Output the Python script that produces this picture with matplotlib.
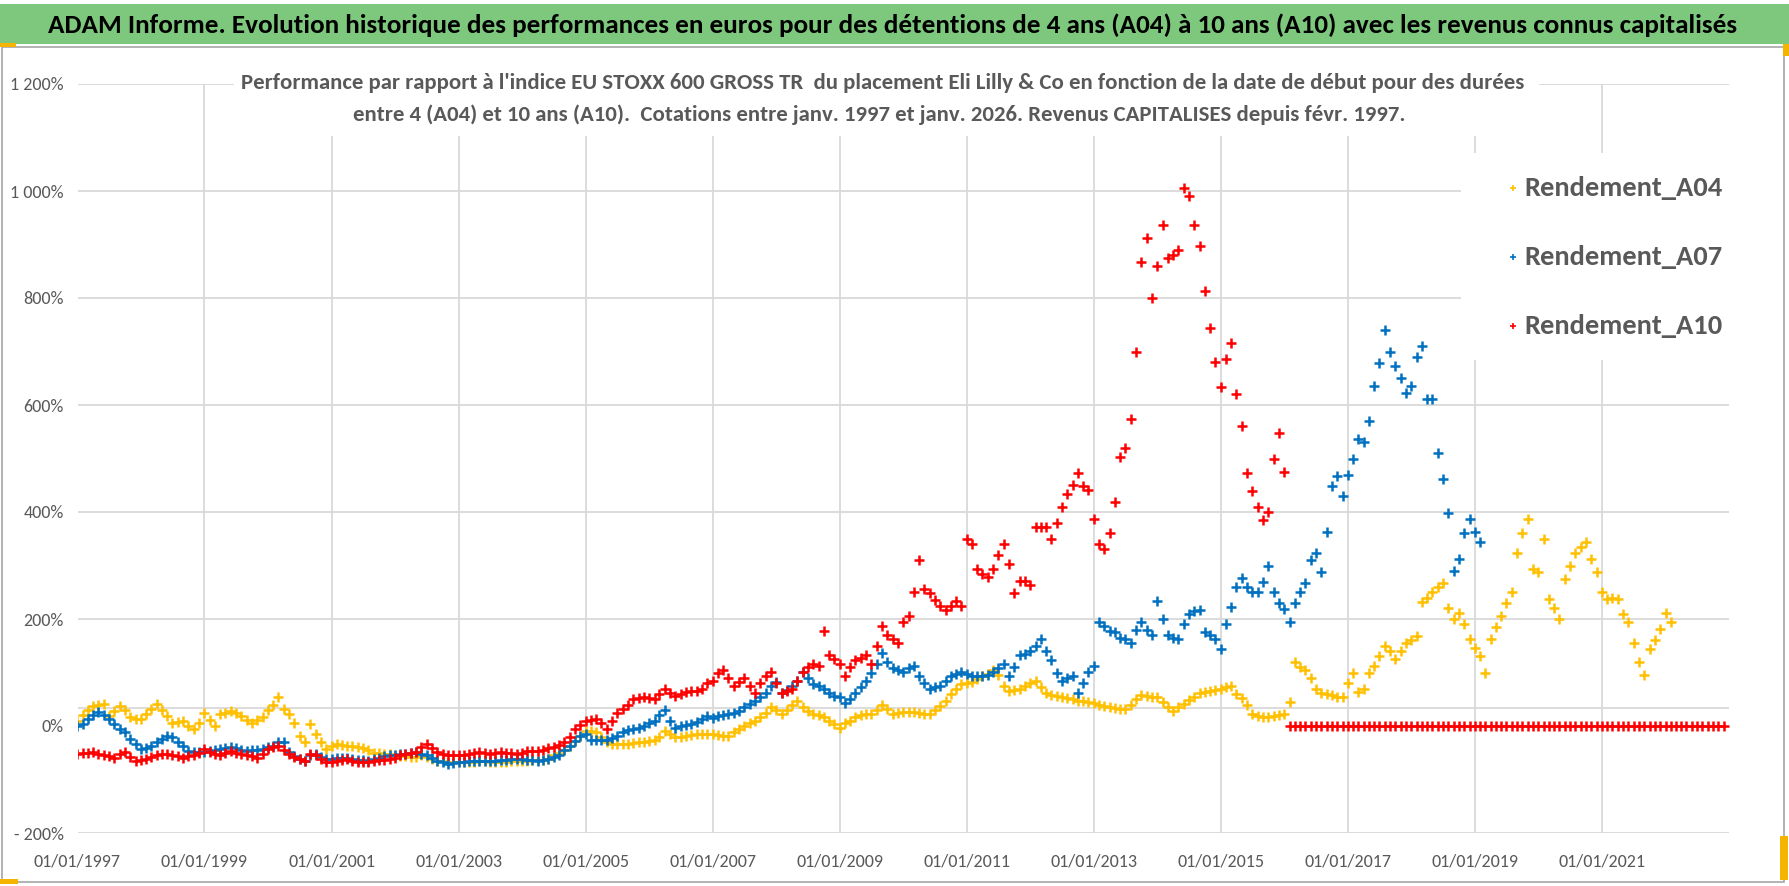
import matplotlib
matplotlib.use("Agg")
import matplotlib.pyplot as plt
from matplotlib import font_manager
from matplotlib.patches import Rectangle
from matplotlib.lines import Line2D
import pandas as pd

# ---------------- data (values in %) ----------------
series_names = ["Rendement_A04", "Rendement_A07", "Rendement_A10"]
series_colors = ["#FFC000", "#0070C0", "#FF0000"]
series_start = ["1997-01-01", "1997-01-01", "1997-01-01"]

rend_a04 = [
    10, 20, 30, 38, 40, 41, 19, 28, 38, 30, 16, 14,            # 1997
    13, 22, 32, 41, 30, 19, 6, 8, 10, 0, -6, 6,                 # 1998
    25, 12, 0, 22, 25, 28, 24, 19, 12, 6, 12, 16,               # 1999
    30, 40, 54, 32, 22, 5, -18, -30, 4, -15, -30, -43,          # 2000
    -38, -34, -35, -37, -38, -40, -42, -45, -50, -50, -52, -53, # 2001
    -55, -56, -57, -58, -58, -55, -58, -62, -65, -66, -68, -68, # 2002
    -68, -68, -68, -67, -66, -66, -67, -68, -68, -67, -66, -66, # 2003
    -65, -65, -64, -64, -63, -62, -55, -50, -45, -37, -28, -18, # 2004
    -9, -10, -12, -20, -30, -34, -34, -34, -33, -31, -30, -29,  # 2005
    -28, -27, -20, -9, -15, -21, -20, -18, -16, -15, -15, -15,  # 2006
    -15, -16, -18, -19, -12, -5, 0, 5, 10, 16, 25, 35,          # 2007
    30, 23, 30, 40, 46, 35, 28, 23, 20, 16, 10, 3,              # 2008
    -3, 5, 10, 16, 20, 22, 23, 30, 39, 32, 23, 25,              # 2009
    26, 27, 27, 25, 23, 23, 30, 38, 46, 60, 70, 78,             # 2010
    80, 82, 88, 93, 98, 105, 95, 75, 66, 68, 70, 75,            # 2011
    80, 85, 72, 62, 58, 56, 54, 52, 50, 47, 46, 45,             # 2012
    43, 40, 38, 35, 33, 32, 31, 40, 50, 58, 56, 55,             # 2013
    54, 45, 35, 28, 35, 42, 48, 55, 62, 64, 66, 68,             # 2014
    70, 72, 74, 60, 52, 40, 23, 18, 16, 17, 19, 21,             # 2015
    23, 45, 119, 110, 105, 90, 69, 62, 60, 58, 55, 54,          # 2016
    80, 100, 63, 70, 100, 113, 130, 150, 140, 125, 140, 156,    # 2017
    160, 169, 231, 240, 250, 260, 268, 220, 200, 212, 190, 163, # 2018
    145, 131, 100, 163, 185, 206, 230, 250, 324, 360, 387, 293, # 2019
    287, 349, 237, 220, 200, 275, 300, 324, 335, 343, 312, 287, # 2020
    250, 237, 240, 237, 210, 194, 156, 120, 95, 144, 160, 181,  # 2021
    212, 194,                                                   # 2022
]

rend_a07 = [
    0, 4, 13, 20, 26, 20, 13, 3, -6, -12, -25, -34,             # 1997
    -43, -42, -38, -30, -24, -18, -21, -30, -37, -46, -48, -49, # 1998
    -48, -46, -45, -43, -42, -40, -41, -44, -46, -45, -44, -43, # 1999
    -40, -37, -30, -30, -49, -57, -62, -65, -55, -52, -58, -62, # 2000
    -61, -60, -59, -60, -62, -63, -64, -65, -62, -59, -57, -55, # 2001
    -54, -53, -52, -50, -49, -52, -55, -60, -65, -68, -71, -70, # 2002
    -68, -67, -66, -65, -65, -65, -65, -65, -64, -63, -62, -62, # 2003
    -62, -63, -64, -65, -63, -62, -58, -55, -45, -37, -28, -18, # 2004
    -15, -27, -27, -27, -27, -22, -18, -12, -8, -6, -3, 0,      # 2005
    5, 10, 20, 29, 10, -3, 0, 2, 4, 8, 13, 18,                  # 2006
    15, 18, 20, 22, 24, 28, 35, 42, 47, 55, 62, 75,             # 2007
    82, 62, 68, 74, 85, 101, 90, 78, 74, 70, 62, 56,            # 2008
    54, 43, 50, 62, 72, 85, 100, 116, 136, 120, 109, 104,       # 2009
    101, 108, 113, 93, 80, 70, 72, 74, 85, 93, 98, 101,         # 2010
    97, 93, 93, 93, 96, 101, 108, 116, 93, 110, 132, 135,       # 2011
    140, 150, 163, 140, 124, 100, 85, 90, 93, 62, 80, 101,      # 2012
    113, 194, 186, 178, 175, 165, 163, 155, 180, 194, 180, 171, # 2013
    233, 200, 171, 165, 163, 190, 209, 215, 217, 175, 170, 163, # 2014
    144, 190, 222, 260, 276, 260, 250, 250, 270, 300, 250, 230, # 2015
    219, 194, 230, 250, 268, 310, 324, 287, 362, 449, 467, 430, # 2016
    470, 499, 536, 530, 570, 635, 679, 741, 700, 673, 650, 623, # 2017
    635, 690, 710, 611, 611, 511, 461, 399, 290, 312, 360, 387, # 2018
    362, 343,                                                   # 2019
]

rend_a10 = [
    -52, -51, -50, -49, -52, -55, -57, -59, -52, -49, -58, -65, # 1997
    -63, -62, -58, -55, -53, -52, -55, -57, -59, -57, -55, -50, # 1998
    -43, -48, -52, -55, -50, -46, -50, -53, -55, -57, -59, -52, # 1999
    -43, -40, -37, -45, -52, -58, -62, -65, -52, -55, -62, -68, # 2000
    -67, -65, -63, -62, -65, -67, -68, -67, -65, -64, -63, -62, # 2001
    -60, -55, -52, -50, -49, -40, -34, -42, -49, -52, -54, -55, # 2002
    -55, -55, -52, -50, -49, -50, -52, -51, -49, -50, -51, -52, # 2003
    -50, -46, -46, -46, -45, -42, -40, -36, -30, -20, -5, 1,    # 2004
    10, 12, 13, 5, -6, 10, 25, 32, 40, 50, 52, 54,              # 2005
    52, 50, 60, 69, 62, 57, 60, 63, 65, 66, 70, 80,             # 2006
    85, 100, 105, 90, 75, 82, 89, 75, 62, 80, 93, 101,          # 2007
    80, 62, 66, 70, 85, 101, 110, 116, 113, 178, 132, 125,      # 2008
    116, 93, 110, 124, 128, 132, 116, 150, 186, 170, 163, 155,  # 2009
    194, 205, 250, 310, 256, 248, 235, 225, 217, 225, 233, 225, # 2010
    349, 341, 294, 285, 279, 294, 320, 341, 302, 248, 271, 271, # 2011
    263, 372, 372, 372, 349, 380, 410, 434, 450, 472, 449, 441, # 2012
    387, 341, 330, 360, 418, 503, 519, 573, 700, 867, 913, 800, # 2013
    859, 937, 875, 880, 890, 1006, 991, 937, 898, 813, 743, 681, # 2014
    633, 686, 715, 621, 560, 473, 440, 410, 385, 400, 500, 548, # 2015
    474, 0, 0, 0, 0, 0, 0, 0, 0, 0, 0, 0,                       # 2016
    0, 0, 0, 0, 0, 0, 0, 0, 0, 0, 0, 0,                         # 2017
    0, 0, 0, 0, 0, 0, 0, 0, 0, 0, 0, 0,                         # 2018
    0, 0, 0, 0, 0, 0, 0, 0, 0, 0, 0, 0,                         # 2019
    0, 0, 0, 0, 0, 0, 0, 0, 0, 0, 0, 0,                         # 2020
    0, 0, 0, 0, 0, 0, 0, 0, 0, 0, 0, 0,                         # 2021
    0, 0, 0, 0, 0, 0, 0, 0, 0, 0, 0, 0,                         # 2022
]

y_ticks = [-200, 0, 200, 400, 600, 800, 1000, 1200]
y_tick_labels = ["- 200%", "0%", "200%", "400%", "600%", "800%", "1 000%", "1 200%"]
x_tick_years = [1997, 1999, 2001, 2003, 2005, 2007, 2009, 2011, 2013, 2015, 2017, 2019, 2021]
x_range = ["1997-01-01", "2023-01-01"]
grid_levels = [-200, 34, 200, 400, 600, 800, 1000, 1200]

title = ("ADAM Informe. Evolution historique des performances en euros pour des "
         "détentions de 4 ans (A04) à 10 ans (A10) avec les revenus connus capitalisés")
subtitle1 = ("Performance par rapport à l'indice EU STOXX 600 GROSS TR  du placement Eli Lilly & Co "
             "en fonction de la date de début pour des durées")
subtitle2 = ("entre 4 (A04) et 10 ans (A10).  Cotations entre janv. 1997 et janv. 2026. "
             "Revenus CAPITALISES depuis févr. 1997.")

# ---------------- layout ----------------
W, H = 1790, 886
fig = plt.figure(figsize=(W / 100, H / 100), dpi=100)
fig.patch.set_facecolor("white")

def fx(px):
    return px / W

def fy(py):
    return 1 - py / H

names = {f.name for f in font_manager.fontManager.ttflist}
FONT = [f for f in ["Carlito", "Liberation Sans", "DejaVu Sans"] if f in names][0]
GRAY_TXT = "#595959"
GRID = "#D9D9D9"

# title bar
fig.add_artist(Rectangle((0, fy(44)), 1, fy(4) - fy(44), transform=fig.transFigure,
                         facecolor="#7DC87D", edgecolor="none", zorder=0))
fig.text(fx(893), fy(25), title, ha="center", va="center", fontsize=19.5,
         fontweight="bold", color="black", family=FONT)
# chart outer border
fig.add_artist(Rectangle((fx(2), fy(882)), fx(1784) - fx(2), fy(47) - fy(882),
                         transform=fig.transFigure, facecolor="none",
                         edgecolor="#A6A6A6", lw=1.2, zorder=0.5))

ax = fig.add_axes([fx(77.5), fy(833), fx(1729) - fx(77.5), fy(84) - fy(833)])
ax.set_facecolor("none")
for s in ax.spines.values():
    s.set_visible(False)

for lvl in grid_levels:
    ax.axhline(lvl, color=GRID, lw=1.3, zorder=0)
xt = [pd.Timestamp(f"{y}-01-01") for y in x_tick_years]
for t in xt:
    ax.axvline(t, color=GRID, lw=1.3, zorder=0)

for name, col, start, vals in zip(series_names, series_colors, series_start,
                                   [rend_a04, rend_a07, rend_a10]):
    d = pd.date_range(start, periods=len(vals), freq="MS")
    ax.plot(d, vals, linestyle="none", marker="+", ms=7.5, mew=1.8, color=col, zorder=2)

ax.set_xlim(pd.Timestamp(x_range[0]), pd.Timestamp(x_range[1]))
ax.set_ylim(-200, 1200)
ax.set_yticks(y_ticks)
ax.set_yticklabels(y_tick_labels, fontsize=13, color=GRAY_TXT, family=FONT)
ax.set_xticks(xt)
ax.set_xticklabels([t.strftime("%d/%m/%Y") for t in xt], fontsize=13,
                   color=GRAY_TXT, family=FONT)
ax.tick_params(axis="y", length=0, pad=10)
ax.tick_params(axis="x", length=0, pad=15)

# white box behind the chart subtitle
fig.add_artist(Rectangle((fx(234), fy(136)), fx(1539) - fx(234), fy(58) - fy(136),
                         transform=fig.transFigure, facecolor="white",
                         edgecolor="none", zorder=1))
fig.text(fx(883), fy(83), subtitle1, ha="center", va="center", fontsize=16.4,
         fontweight="bold", color=GRAY_TXT, family=FONT, zorder=3)
fig.text(fx(879), fy(115), subtitle2, ha="center", va="center", fontsize=16.4,
         fontweight="bold", color=GRAY_TXT, family=FONT, zorder=3)

# legend box
fig.add_artist(Rectangle((fx(1461), fy(360)), fx(1729) - fx(1461), fy(153) - fy(360),
                         transform=fig.transFigure, facecolor="white",
                         edgecolor="none", zorder=1))
for i, (name, col) in enumerate(zip(series_names, series_colors)):
    yy = [188, 257, 326][i]
    fig.add_artist(Line2D([fx(1513)], [fy(yy)], marker="+", ms=5, mew=1.2,
                          color=col, transform=fig.transFigure, zorder=3))
    fig.text(fx(1524), fy(yy), name, ha="left", va="center", fontsize=20.5,
             fontweight="bold", color=GRAY_TXT, family=FONT, zorder=3)

# small orange selection marks
for (x0, y0, w, h) in [(0, 43, 16, 4), (1783, 44, 6, 12), (0, 879, 18, 5), (1780, 836, 8, 44)]:
    fig.add_artist(Rectangle((fx(x0), fy(y0 + h)), w / W, h / H, transform=fig.transFigure,
                             facecolor="#F4B400", edgecolor="none", zorder=2))

fig.savefig("out.png", dpi=100, facecolor="white")
